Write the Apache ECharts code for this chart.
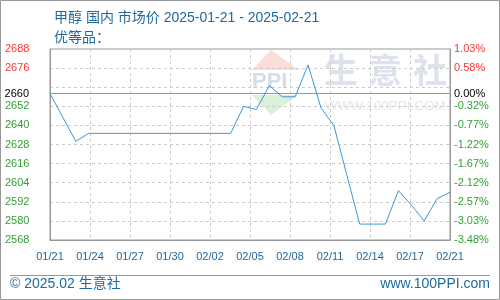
<!DOCTYPE html>
<html>
<head>
<meta charset="utf-8">
<script src="https://cdn.jsdelivr.net/npm/echarts@6/dist/echarts.min.js"></script>
<style>html,body{margin:0;padding:0;background:#fff;}#c{width:500px;height:300px;}</style>
</head>
<body>
<div id="c"></div>
<script>
// ---- data ----
var days = ['01/21','01/22','01/23','01/24','01/25','01/26','01/27','01/28','01/29','01/30','01/31',
            '02/01','02/02','02/03','02/04','02/05','02/06','02/07','02/08','02/09','02/10','02/11',
            '02/12','02/13','02/14','02/15','02/16','02/17','02/18','02/19','02/20','02/21'];
var prices = [2660,2645,2630,2635,2635,2635,2635,2635,2635,2635,2635,
              2635,2635,2635,2635,2652,2650,2665,2658,2658,2678,2651,
              2640,2609,2578,2578,2578,2599,2590,2580,2594,2598];
var xTickLabels = ['01/21','01/24','01/27','01/30','02/02','02/05','02/08','02/11','02/14','02/17','02/21'];
var leftTickLabels = ['2568','2580','2592','2604','2616','2628','2640','2652','','2676','2688'];
var rightTickLabels = ['-3.48%','-3.03%','-2.57%','-2.12%','-1.67%','-1.22%','-0.77%','-0.32%','','0.58%','1.03%'];
var basePrice = 2660;
var baseLabel = '2660';
var basePct = '0.00%';

var yMin = 2568, yMax = 2688, yStep = 12;
var xStep = (days.length - 1) / (xTickLabels.length - 1);

var seriesData = prices.map(function (v, i) { return [i, v]; });

var RED = '#ff3333', GREEN = '#33a033', BLUE = '#1d6a9c';
function tickColor(val) {
  var v = Number(val);
  if (isNaN(v)) return '#000';
  return v > basePrice ? RED : (v < basePrice ? GREEN : '#000');
}
var latin = 'Liberation Sans, Arial, Noto Sans CJK SC, sans-serif';

var chart = echarts.init(document.getElementById('c'), null, {renderer: 'canvas'});
chart.setOption({
  animation: false,
  backgroundColor: '#fff',
  title: [{
    text: '甲醇 国内 市场价 2025-01-21 - 2025-02-21',
    left: 49, top: 6,
    textStyle: {fontSize: 14, fontWeight: 'normal', color: BLUE, fontFamily: latin}
  }, {
    text: '优等品：',
    left: 49, top: 26,
    textStyle: {fontSize: 14, fontWeight: 'normal', color: BLUE, fontFamily: latin}
  }],
  grid: {left: 50, right: 50, top: 49, bottom: 60, show: true, borderColor: '#999', borderWidth: 1, backgroundColor: 'transparent'},
  xAxis: {
    type: 'value', min: 0, max: days.length - 1, interval: xStep,
    axisLine: {show: true, lineStyle: {color: '#999'}},
    axisTick: {show: false},
    splitLine: {show: true, lineStyle: {color: '#ccc', type: [3, 3]}},
    axisLabel: {
      margin: 11, color: BLUE, fontSize: 11, fontFamily: latin,
      formatter: function (v) { return xTickLabels[Math.round(v / xStep)] || ''; }
    }
  },
  yAxis: [{
    type: 'value', min: yMin, max: yMax, interval: yStep, position: 'left',
    axisLine: {show: true, lineStyle: {color: '#999'}},
    axisTick: {show: false},
    splitLine: {show: true, lineStyle: {color: '#ccc', type: [3, 3]}},
    axisLabel: {
      margin: 45, align: 'left', fontSize: 11, fontFamily: latin,
      color: function (v) { return tickColor(v); },
      formatter: function (v) { return leftTickLabels[Math.round((v - yMin) / yStep)] || ''; }
    }
  }, {
    type: 'value', min: yMin, max: yMax, interval: yStep, position: 'right',
    axisLine: {show: true, lineStyle: {color: '#999'}},
    axisTick: {show: false},
    splitLine: {show: false},
    axisLabel: {
      margin: 4, align: 'left', fontSize: 11, fontFamily: latin,
      color: function (v) { return tickColor(v); },
      formatter: function (v) { return rightTickLabels[Math.round((v - yMin) / yStep)] || ''; }
    }
  }],
  series: [{
    type: 'line',
    data: seriesData,
    yAxisIndex: 0,
    symbol: 'none',
    lineStyle: {color: '#3a98d8', width: 1},
    z: 5,
    markLine: {
      silent: true,
      symbol: 'none',
      lineStyle: {color: '#999', width: 1, type: 'solid'},
      data: [
        {yAxis: basePrice, label: {show: true, position: 'start', formatter: baseLabel, color: '#000', fontSize: 11, fontFamily: latin, distance: 21}},
        {yAxis: basePrice, label: {show: true, position: 'end', formatter: basePct, color: '#000', fontSize: 11, fontFamily: latin, distance: 4}}
      ]
    }
  }],
  graphic: [
    {type: 'rect', z: -20, shape: {x: 0.5, y: 0.5, width: 499, height: 299}, style: {fill: 'none', stroke: '#999', lineWidth: 1}},
    {type: 'line', z: -20, shape: {x1: 10, y1: 275.5, x2: 490, y2: 275.5}, style: {stroke: '#999', lineWidth: 1}},
    {type: 'text', z: -20, left: 10, top: 277, style: {text: '© 2025.02 生意社', fill: BLUE, fontSize: 14, fontFamily: latin}},
    {type: 'text', z: -20, right: 10, top: 277, style: {text: 'www.100PPI.com', fill: BLUE, fontSize: 14, fontFamily: latin}},
    // watermark
    {type: 'polygon', z: -30, shape: {points: [[271, 50], [252, 70], [299, 70]]}, style: {fill: '#fadcd8'}},
    {type: 'polygon', z: -30, shape: {points: [[252, 95], [298, 95], [271, 115]]}, style: {fill: '#dbf0db'}},
    {type: 'text', z: -29, left: 252, top: 71, style: {text: 'PPI', fill: '#d6dcea', fontSize: 22, fontWeight: 'bold', fontFamily: latin}},
    {type: 'text', z: -29, left: 324, top: 53, style: {text: '生', fill: '#dde2ed', fontSize: 34, fontWeight: 'bold', fontFamily: 'Noto Sans CJK SC'}},
    {type: 'text', z: -29, left: 368, top: 53, style: {text: '意', fill: '#dde2ed', fontSize: 34, fontWeight: 'bold', fontFamily: 'Noto Sans CJK SC'}},
    {type: 'text', z: -29, left: 413, top: 53, style: {text: '社', fill: '#dde2ed', fontSize: 34, fontWeight: 'bold', fontFamily: 'Noto Sans CJK SC'}},
    {type: 'text', z: -29, left: 325, top: 100, style: {text: 'WWW.100PPI.COM', fill: '#e6e6e6', fontSize: 13.5, fontFamily: latin}}
  ]
});
</script>
</body>
</html>
